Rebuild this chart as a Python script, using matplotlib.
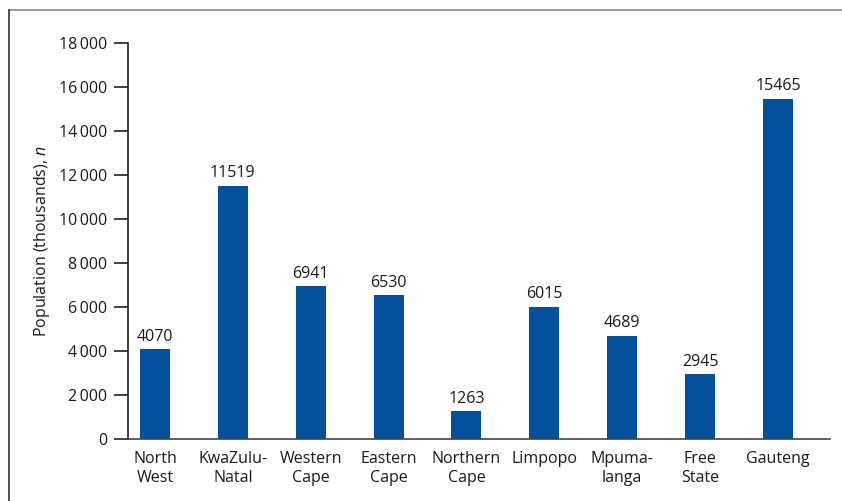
import matplotlib.pyplot as plt
from matplotlib.lines import Line2D

plt.rcParams['font.family'] = ['Open Sans', 'DejaVu Sans']
plt.rcParams['mathtext.fontset'] = 'custom'
plt.rcParams['mathtext.it'] = 'Open Sans:italic'

provinces = ['North\nWest', 'KwaZulu-\nNatal', 'Western\nCape', 'Eastern\nCape',
             'Northern\nCape', 'Limpopo', 'Mpuma-\nlanga', 'Free\nState', 'Gauteng']
population = [4070, 11519, 6941, 6530, 1263, 6015, 4689, 2945, 15465]
yticks = [0, 2000, 4000, 6000, 8000, 10000, 12000, 14000, 16000, 18000]

bar_color = '#03519b'
text_color = '#1a1a1a'

fig = plt.figure(figsize=(8.42, 5.01), dpi=100)
ax = fig.add_axes([0.152, 0.1238, 0.8337, 0.7904])

x = range(len(provinces))
bars = ax.bar(x, population, width=0.385, color=bar_color)
for b, v in zip(bars, population):
    ax.text(b.get_x() + b.get_width() / 2, v + 200, str(v),
            ha='center', va='bottom', fontsize=11.5, color=text_color)

ax.set_xlim(-0.346, 8.667)
ax.set_ylim(0, 18000)
ax.set_xticks(list(x))
ax.set_xticklabels(provinces, fontsize=11.5, color=text_color, linespacing=1.2)
ax.set_yticks(yticks)
ax.set_yticklabels([f'{t:,}'.replace(',', '\u2009') for t in yticks],
                   fontsize=11.5, color=text_color)
ax.tick_params(axis='x', length=0, pad=9)
ax.tick_params(axis='y', length=10, width=1.2, color='#222222', pad=5)

ax.spines['top'].set_visible(False)
ax.spines['right'].set_visible(False)
ax.spines['left'].set_color('#222222')
ax.spines['left'].set_linewidth(1.2)
ax.spines['bottom'].set_color('#444444')
ax.spines['bottom'].set_linewidth(1.2)

ax.set_ylabel('Population (thousands), $n$', fontsize=11.5, color=text_color, labelpad=5)

# outer frame lines (top and left edges)
fig.add_artist(Line2D([9 / 842, 1], [1 - 10 / 501, 1 - 10 / 501],
                      transform=fig.transFigure, color='#8a8a8a', lw=1.2))
fig.add_artist(Line2D([9 / 842, 9 / 842], [0, 1 - 10 / 501],
                      transform=fig.transFigure, color='#333333', lw=1.2))

fig.savefig('out.png', dpi=100)
